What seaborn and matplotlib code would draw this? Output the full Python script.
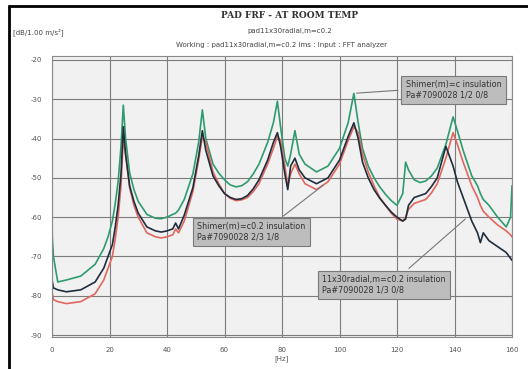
import numpy as np
import pandas as pd
import matplotlib
matplotlib.use("Agg")
import matplotlib.pyplot as plt
import seaborn as sns
from matplotlib.lines import Line2D

# frequency grid [Hz]
freq = [0, 0.5, 2, 5, 10, 15, 18, 19.5, 21, 22,
        23, 24, 24.8, 25.6, 27, 28.5, 30, 33, 36, 38,
        40, 42, 43, 44, 46, 49, 51, 52.3, 53.5, 56,
        58, 60, 62, 64, 66, 68, 70, 72, 75, 77,
        78.4, 79.5, 81, 82, 83, 84.5, 86, 88, 92, 96,
        100, 103, 105, 106.5, 108, 110, 112, 114, 116, 118,
        120, 122, 123, 124, 126, 128, 130, 132, 134, 137,
        139.5, 141, 143, 146, 148, 149, 150, 152, 155, 158,
        159.5, 160]

# green run (top curve)
green = [-64, -70, -76.5, -76, -75, -72, -68, -65, -61, -56.5,
         -51, -42, -31.5, -40, -48.7, -53, -56, -59.3, -60.3, -60.4,
         -60, -59.3, -59, -58.2, -55.5, -49, -41, -32.7, -40, -46.5,
         -48.8, -50.5, -51.8, -52.3, -52, -51, -49, -46.5, -41, -36,
         -30.5, -37, -45, -47, -44, -38, -44, -46.5, -48.5, -47,
         -42.5, -36, -28.5, -36, -42.5, -47, -50, -52.3, -54.2, -55.8,
         -57, -54, -46, -48, -50.5, -51.2, -50.8, -49.5, -47.5, -41.5,
         -34.5, -38, -43, -49.5, -52, -54, -55.5, -57, -60, -62.5,
         -60, -52]

# black run
black = [-76, -78, -78.5, -79, -78.5, -76.5, -73, -70, -67, -62.5,
         -57, -49, -37, -44, -52, -56, -59, -62.5, -63.5, -63.8,
         -63.5, -63, -61.5, -63, -59.5, -52.5, -44.5, -38, -43, -49.5,
         -52, -54, -55, -55.5, -55.3, -54.5, -52.8, -50.5, -45.5, -41,
         -38.5, -42, -49, -53, -47, -45, -48, -50, -51.5, -50,
         -45.5, -39.5, -36, -40, -46, -50, -53, -55.2, -57, -58.7,
         -60, -61, -60.5, -57, -55, -54.5, -54, -52.2, -50, -42,
         -47, -51, -55, -61, -64, -66.5, -64, -66, -67.5, -69,
         -70.5, -71]

# red run
red = [-79, -81, -81.5, -82, -81.5, -79.5, -76, -73, -70, -65.5,
       -60, -52, -40, -44, -52.5, -57, -60, -64, -65, -65.3,
       -65, -64.5, -63, -64, -61, -53.5, -45.5, -39.5, -41, -48.5,
       -51.5, -54, -55.2, -55.8, -55.6, -55, -53.5, -51.5, -46.5, -42.5,
       -39.5, -40.5, -47, -52, -49, -46.5, -49, -51.5, -53, -51,
       -46.5, -40.5, -37, -38.5, -44, -48.5, -52, -55, -57, -59,
       -60.5, -61, -60, -58, -56.5, -56, -55.5, -53.8, -51.5, -45,
       -38.5, -41.5, -46, -52, -55, -57, -58.5, -60, -62, -63.5,
       -64.5, -65]

runs = ["Shimer c", "Shimer c0.2", "11x30radial c0.2"]
colors = ["#2e9b6e", "#e0675f", "#1f2d3d"]

xticks = [0, 20, 40, 60, 80, 100, 120, 140, 160]
yticks = [-20, -30, -40, -50, -60, -70, -80, -90]

df = pd.DataFrame({
    "freq": freq * 3,
    "dB": green + red + black,
    "run": [runs[0]] * len(freq) + [runs[1]] * len(freq) + [runs[2]] * len(freq),
})

sns.set_style("whitegrid", {"axes.facecolor": "#f1f1f1", "grid.color": "#7c7c7c",
                            "axes.edgecolor": "#8a8a8a"})
plt.rcParams["font.family"] = ["DejaVu Sans"]

fig = plt.figure(figsize=(5.28, 3.69), dpi=100)
ax = fig.add_axes([52 / 528, 1 - 337 / 369, (512 - 52) / 528, (337 - 56) / 369])

sns.lineplot(data=df, x="freq", y="dB", hue="run", hue_order=[runs[0], runs[1], runs[2]],
             palette=[colors[0], colors[1], colors[2]], sort=False, legend=False,
             linewidth=1.2, ax=ax)

ax.set_xlim(0, 160)
ax.set_ylim(-90.5, -19)
ax.set_xticks(xticks)
ax.set_yticks(yticks)
ax.set_xticklabels([str(t) for t in xticks], fontsize=5, color="#555555")
ax.set_yticklabels([str(t) for t in yticks], fontsize=5, color="#555555")
ax.tick_params(axis="both", length=3, width=0.6, color="#777777", pad=4)
ax.grid(True, linewidth=0.8)
ax.set_xlabel("[Hz]", fontsize=5, color="#555555", labelpad=2)
ax.set_ylabel("")
for s in ax.spines.values():
    s.set_linewidth(0.8)

# annotation boxes
box = dict(boxstyle="square,pad=0.55", fc="#bdbdbd", ec="#7a7a7a", lw=0.8)
ax.annotate("Shimer(m)=c insulation\nPa#7090028 1/2 0/8", xy=(105, -28.5),
            xytext=(123, -27.6), fontsize=5.8, color="#333333", va="center", ha="left",
            bbox=box, arrowprops=dict(arrowstyle="-", color="#777777", lw=0.8,
                                      relpos=(0.0, 0.5)))
ax.annotate("Shimer(m)=c0.2 insulation\nPa#7090028 2/3 1/8", xy=(95, -51.5),
            xytext=(50.5, -63.8), fontsize=5.8, color="#333333", va="center", ha="left",
            bbox=box, arrowprops=dict(arrowstyle="-", color="#777777", lw=0.8,
                                      relpos=(0.72, 1.0)))
ax.annotate("11x30radial,m=c0.2 insulation\nPa#7090028 1/3 0/8", xy=(144.5, -60),
            xytext=(94, -77.2), fontsize=5.8, color="#333333", va="center", ha="left",
            bbox=box, arrowprops=dict(arrowstyle="-", color="#777777", lw=0.8,
                                      relpos=(0.64, 1.0)))

# titles
fig.text(290 / 528, 1 - 15 / 369, "PAD FRF - AT ROOM TEMP", ha="center", va="center",
         fontsize=6.5, fontweight="bold", family="DejaVu Serif", color="#333333")
fig.text(290 / 528, 1 - 31 / 369, "pad11x30radial,m=c0.2", ha="center", va="center",
         fontsize=5, color="#444444")
fig.text(282 / 528, 1 - 45 / 369,
         "Working : pad11x30radial,m=c0.2 lms : Input : FFT analyzer",
         ha="center", va="center", fontsize=5, color="#444444")
fig.text(13 / 528, 1 - 32 / 369, "[dB/1.00 m/s\u00b2]", ha="left", va="center",
         fontsize=5, color="#444444")

# black frame on top and left edge of the screenshot
fig.add_artist(Line2D([9 / 528, 9 / 528], [0, 1 - 6 / 369], color="black", lw=2,
                      transform=fig.transFigure))
fig.add_artist(Line2D([9 / 528, 1], [1 - 6 / 369, 1 - 6 / 369], color="black", lw=2,
                      transform=fig.transFigure))

fig.savefig("out.png", dpi=100)
